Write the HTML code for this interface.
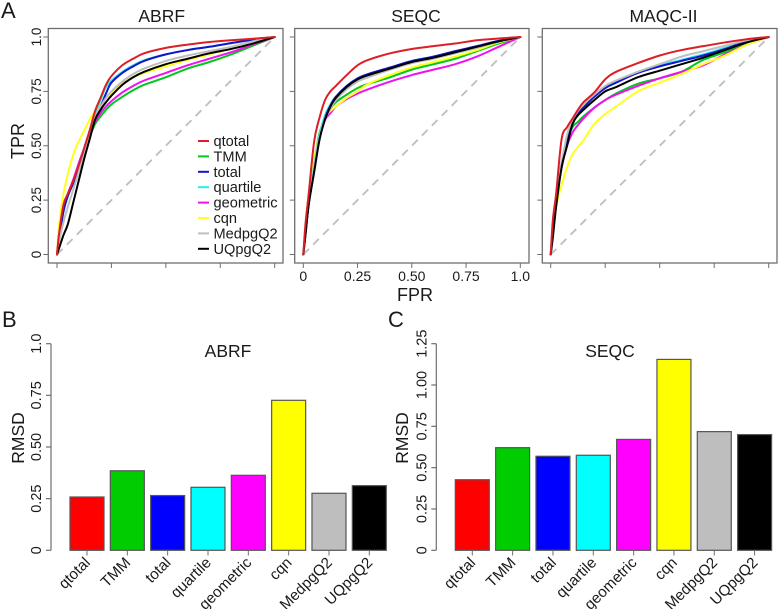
<!DOCTYPE html>
<html>
<head>
<meta charset="utf-8">
<title>ROC and RMSD chart</title>
<style>
html,body{margin:0;padding:0;background:#fff;width:778px;height:609px;overflow:hidden}
svg{display:block;font-family:"Liberation Sans",Arial,sans-serif;fill:#1a1a1a;filter:blur(0.3px)}
</style>
</head>
<body>
<svg id="fig" width="778" height="609" viewBox="0 0 778 609" xmlns="http://www.w3.org/2000/svg">
  <text x="1" y="18" font-size="22">A</text>
  <text x="2" y="327" font-size="22">B</text>
  <text x="388" y="327" font-size="22">C</text>
  <text transform="translate(24,141) rotate(-90)" text-anchor="middle" font-size="18">TPR</text>
  <text x="415" y="301" text-anchor="middle" font-size="18">FPR</text>
  <text transform="translate(24,438) rotate(-90)" text-anchor="middle" font-size="17.5">RMSD</text>
  <text transform="translate(408,438) rotate(-90)" text-anchor="middle" font-size="17.5">RMSD</text>
</svg>
<script>
var seriesNames = ["qtotal","TMM","total","quartile","geometric","cqn","MedpgQ2","UQpgQ2"];
var lineColors = ["#dc1f26","#00c81e","#1414c8","#22eeee","#f010f0","#ffff20","#bebebe","#000000"];
var barColors = ["#ff0000","#00cd00","#0000ff","#00ffff","#ff00ff","#ffff00","#bebebe","#000000"];
var drawOrder = ["TMM","geometric","cqn","quartile","total","MedpgQ2","UQpgQ2","qtotal"];
var rocTicks = [0,0.25,0.5,0.75,1];
var rocTickLabels = ["0","0.25","0.50","0.75","1.0"];

var abrfFpr = [0,.01,.03,.05,.075,.1,.125,.15,.175,.2,.225,.25,.3,.35,.4,.5,.6,.7,.8,.9,1];
var abrfQtotal = [0,.1,.23,.28,.34,.41,.49,.57,.66,.72,.78,.82,.87,.90,.925,.95,.965,.977,.985,.992,1];
var abrfTMM = [0,.08,.2,.27,.33,.40,.47,.54,.60,.635,.665,.69,.725,.755,.78,.815,.855,.885,.92,.96,1];
var abrfTotal = [0,.08,.2,.27,.33,.40,.48,.56,.63,.68,.74,.79,.835,.865,.89,.92,.94,.955,.972,.988,1];
var abrfQuartile = [0,.08,.2,.27,.33,.40,.49,.57,.65,.71,.77,.80,.84,.87,.893,.92,.94,.955,.972,.988,1];
var abrfGeometric = [0,.09,.22,.28,.345,.42,.49,.56,.61,.65,.68,.705,.745,.775,.80,.835,.87,.90,.93,.965,1];
var abrfCqn = [0,.14,.28,.37,.46,.52,.57,.62,.66,.69,.72,.74,.785,.815,.835,.865,.895,.92,.945,.97,1];
var abrfMed = [0,.06,.15,.22,.30,.38,.47,.55,.63,.68,.72,.75,.795,.83,.855,.89,.915,.935,.955,.98,1];
var abrfUQ = [0,.03,.09,.14,.24,.34,.44,.53,.62,.665,.70,.73,.78,.815,.84,.875,.90,.925,.945,.97,1];

var seqcFpr = [0,.01,.025,.05,.075,.1,.125,.15,.2,.25,.3,.4,.5,.6,.7,.8,.9,1];
var seqcQtotal = [0,.14,.28,.52,.63,.71,.75,.775,.825,.87,.895,.925,.945,.958,.97,.985,.993,1];
var seqcTMM = [0,.1,.24,.43,.56,.62,.67,.70,.735,.765,.785,.815,.85,.875,.90,.935,.97,1];
var seqcTotal = [0,.09,.23,.38,.53,.625,.685,.725,.775,.81,.83,.86,.89,.91,.935,.958,.982,1];
var seqcQuartile = [0,.1,.25,.41,.55,.64,.69,.725,.77,.805,.825,.855,.885,.905,.93,.955,.98,1];
var seqcGeometric = [0,.1,.24,.43,.55,.62,.65,.68,.715,.74,.76,.795,.825,.85,.875,.91,.955,1];
var seqcCqn = [0,.12,.28,.44,.55,.63,.66,.68,.72,.75,.785,.825,.86,.885,.91,.94,.975,1];
var seqcMed = [0,.1,.24,.40,.54,.62,.67,.71,.76,.795,.815,.85,.88,.90,.925,.95,.978,1];
var seqcUQ = [0,.09,.23,.38,.53,.62,.68,.72,.77,.805,.825,.855,.885,.905,.93,.955,.98,1];

var maqcFpr = [0,.01,.025,.05,.075,.1,.125,.15,.2,.25,.3,.4,.5,.6,.7,.8,.9,1];
var maqcQtotal = [0,.16,.28,.53,.585,.625,.665,.70,.745,.805,.84,.88,.915,.94,.958,.975,.99,1];
var maqcTMM = [0,.1,.25,.40,.52,.585,.61,.635,.675,.71,.74,.785,.81,.84,.895,.93,.97,1];
var maqcTotal = [0,.1,.25,.42,.53,.60,.645,.675,.725,.765,.79,.835,.865,.89,.915,.945,.98,1];
var maqcQuartile = [0,.1,.25,.42,.53,.60,.645,.675,.73,.77,.795,.84,.87,.895,.92,.95,.98,1];
var maqcGeometric = [0,.13,.26,.40,.50,.56,.595,.625,.675,.71,.735,.775,.81,.84,.87,.92,.965,1];
var maqcCqn = [0,.10,.22,.32,.40,.46,.495,.525,.60,.645,.68,.75,.79,.83,.875,.915,.965,1];
var maqcMed = [0,.12,.27,.42,.55,.62,.66,.69,.735,.775,.80,.84,.875,.91,.935,.96,.985,1];
var maqcUQ = [0,.08,.22,.40,.50,.60,.64,.665,.71,.75,.77,.815,.845,.875,.905,.94,.975,1];

var abrfRmsd = [0.258,0.385,0.265,0.305,0.363,0.726,0.276,0.313];
var seqcRmsd = [0.427,0.621,0.569,0.575,0.671,1.155,0.718,0.700];
var abrfRmsdTicks = [0,0.25,0.5,0.75,1];
var abrfRmsdTickLabels = ["0","0.25","0.50","0.75","1.0"];
var seqcRmsdTicks = [0,0.25,0.5,0.75,1,1.25];
var seqcRmsdTickLabels = ["0","0.25","0.50","0.75","1.00","1.25"];

var NS = "http://www.w3.org/2000/svg";
var fig = document.getElementById("fig");
function make(tag, attrs, text){
  var el = document.createElementNS(NS, tag);
  for (var k in attrs) el.setAttribute(k, attrs[k]);
  if (text !== undefined) el.textContent = text;
  fig.appendChild(el);
  return el;
}
function linear(d0, d1, r0, r1){
  return function(v){ return r0 + (v - d0) / (d1 - d0) * (r1 - r0); };
}
function smoothPath(pts){
  var d = "M" + pts[0][0].toFixed(2) + " " + pts[0][1].toFixed(2);
  for (var i = 0; i < pts.length - 1; i++){
    var p0 = pts[Math.max(i - 1, 0)], p1 = pts[i], p2 = pts[i + 1], p3 = pts[Math.min(i + 2, pts.length - 1)];
    var k = 1 / 6;
    d += " C" + (p1[0] + (p2[0] - p0[0]) * k).toFixed(2) + " " + (p1[1] + (p2[1] - p0[1]) * k).toFixed(2) +
         " " + (p2[0] - (p3[0] - p1[0]) * k).toFixed(2) + " " + (p2[1] - (p3[1] - p1[1]) * k).toFixed(2) +
         " " + p2[0].toFixed(2) + " " + p2[1].toFixed(2);
  }
  return d;
}

function drawRoc(id, title, titleX, box, xZero, xOne, fpr, curves, showLeftLabels, showBottomLabels){
  var x = linear(0, 1, xZero, xOne);
  var y = linear(0, 1, 254.5, 37);
  var frame = make("rect", {x:box[0], y:28.5, width:box[1]-box[0], height:234.5, fill:"none", stroke:"#6e6e6e", "stroke-width":1.3});
  
  
  var head = make("text", {x:titleX, y:22, "text-anchor":"middle", "font-size":17.5}, title);
  
  
  rocTicks.forEach(function(t, i){
    var xt = make("line", {x1:x(t), x2:x(t), y1:263, y2:268, stroke:"#6e6e6e", "stroke-width":1});
    
    
    var yt = make("line", {x1:box[0]-5, x2:box[0], y1:y(t), y2:y(t), stroke:"#6e6e6e", "stroke-width":1});
    
    
    if (showBottomLabels){
      var xl = make("text", {x:x(t), y:281, "text-anchor":"middle", "font-size":14}, rocTickLabels[i]);
      
      
    }
    if (showLeftLabels){
      var yl = make("text", {transform:"translate(41,"+y(t)+") rotate(-90)", "text-anchor":"middle", "font-size":13.5}, rocTickLabels[i]);
      
      
    }
  });
  var diag = make("line", {x1:x(0), y1:y(0), x2:x(1), y2:y(1), stroke:"#bdbdbd", "stroke-width":1.8, "stroke-dasharray":"8 6"});
  
  
  drawOrder.forEach(function(name){
    var idx = seriesNames.indexOf(name);
    var vals = curves[idx];
    var pts = vals.map(function(v, j){ return [x(fpr[j]), y(v)]; });
    var line = make("path", {d:smoothPath(pts), fill:"none", stroke:lineColors[idx], "stroke-width":2, "stroke-linejoin":"round", "stroke-linecap":"round"});
    
    
  });
}

function drawLegend(){
  var y = linear(0, 1, 141, 156.4);
  seriesNames.forEach(function(name, i){
    var key = make("line", {x1:198, x2:209, y1:y(i), y2:y(i), stroke:lineColors[i], "stroke-width":2});
    
    
    var label = make("text", {x:213.5, y:y(i)+5, "font-size":14.6}, name);
    
    
  });
}

function drawBars(id, title, titleX, axisX, firstBar, values, ticks, tickLabels){
  var top = ticks[ticks.length - 1];
  var y = linear(0, top, 550.3, 343.7);
  var step = 40.33, barW = 34;
  var axis = make("line", {x1:axisX, x2:axisX, y1:y(0), y2:y(top), stroke:"#6e6e6e", "stroke-width":1.2});
  
  
  ticks.forEach(function(t, i){
    var tk = make("line", {x1:axisX-5, x2:axisX, y1:y(t), y2:y(t), stroke:"#6e6e6e", "stroke-width":1.2});
    
    
    var lb = make("text", {transform:"translate("+(axisX-10)+","+y(t)+") rotate(-90)", "text-anchor":"middle", "font-size":14.5}, tickLabels[i]);
    
    
  });
  var head = make("text", {x:titleX, y:357, "text-anchor":"middle", "font-size":17.5}, title);
  
  
  values.forEach(function(v, i){
    var bx = firstBar + i * step;
    var bar = make("rect", {x:bx, y:y(v), width:barW, height:y(0)-y(v), fill:barColors[i], stroke:"#555", "stroke-width":1.2});
    
    
    var cx = bx + barW / 2;
    var tk = make("line", {x1:cx, x2:cx, y1:550.3, y2:555.5, stroke:"#6e6e6e", "stroke-width":1});
    
    
    var lb = make("text", {transform:"translate("+(cx+4)+",563.5) rotate(-45)", "text-anchor":"end", "font-size":15.2}, seriesNames[i]);
    
    
  });
}

drawRoc("abrf-roc", "ABRF", 161.7, [48.3,283], 57, 274.7, abrfFpr,
  [abrfQtotal,abrfTMM,abrfTotal,abrfQuartile,abrfGeometric,abrfCqn,abrfMed,abrfUQ], true, false);
drawRoc("seqc-roc", "SEQC", 416, [294.7,529], 303.3, 520.3, seqcFpr,
  [seqcQtotal,seqcTMM,seqcTotal,seqcQuartile,seqcGeometric,seqcCqn,seqcMed,seqcUQ], false, true);
drawRoc("maqc-roc", "MAQC-II", 663.5, [542.3,777], 550.7, 768.7, maqcFpr,
  [maqcQtotal,maqcTMM,maqcTotal,maqcQuartile,maqcGeometric,maqcCqn,maqcMed,maqcUQ], false, false);
drawLegend();
drawBars("abrf-rmsd", "ABRF", 228, 51, 70, abrfRmsd, abrfRmsdTicks, abrfRmsdTickLabels);
drawBars("seqc-rmsd", "SEQC", 610, 436.3, 455.3, seqcRmsd, seqcRmsdTicks, seqcRmsdTickLabels);
</script>
</body>
</html>
